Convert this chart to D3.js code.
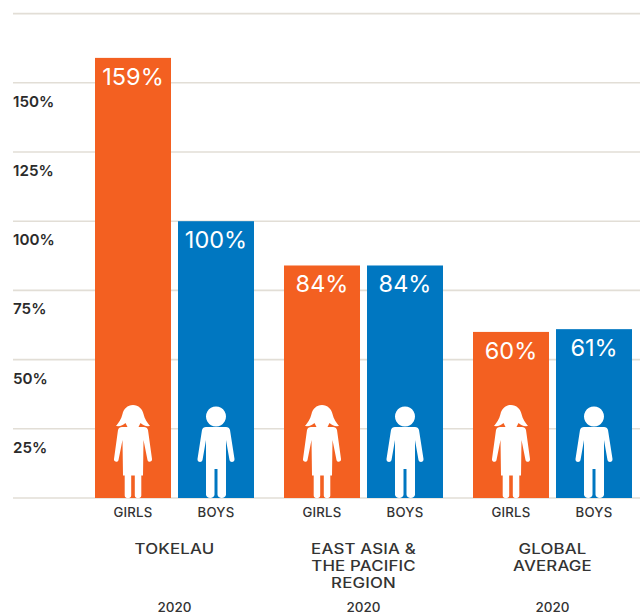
<!DOCTYPE html>
<html><head><meta charset="utf-8">
<script src="https://cdn.jsdelivr.net/npm/d3@7"></script>
<style>html,body{margin:0;padding:0;background:#fff}svg{display:block}text{font-family:Inter,"Open Sans",sans-serif}</style>
</head><body><div id="c"></div>
<script>
const regions = ["TOKELAU", "EAST ASIA &|THE PACIFIC|REGION", "GLOBAL|AVERAGE"];
const genders = ["GIRLS", "BOYS"];
const girls = [159, 84, 60];
const boys = [100, 84, 61];
const years = ["2020", "2020", "2020"];
const ticks = [25, 50, 75, 100, 125, 150];
const gridValues = [0, 25, 50, 75, 100, 125, 150, 175];
const colors = ["#f36021", "#0077c1"];

const W = 640, H = 614;
const svg = d3.select("#c").append("svg").attr("width", W).attr("height", H);
const y = d3.scaleLinear().domain([0, 175]).range([498, 13.6]);
const x0 = d3.scalePoint().domain(d3.range(regions.length)).range([95, 473]);
const x1 = d3.scaleBand().domain(genders).range([0, 159]).paddingInner(7 / 83).paddingOuter(0);

svg.append("g").selectAll("line").data(gridValues).join("line")
  .attr("x1", 13).attr("x2", W)
  .attr("y1", d => y(d)).attr("y2", d => y(d))
  .attr("stroke", "#e2ded6").attr("stroke-width", 1.6);

svg.append("g").selectAll("text").data(ticks).join("text")
  .attr("x", 13).attr("y", d => y(d) + 24)
  .attr("font-size", 15.2).attr("font-weight", 600).attr("fill", "#2b2b2b")
  .text(d => d + "%");

const girlPath = "M0,-93 C5.5,-93 9.5,-89 10.5,-84 C11.5,-79 14.5,-75 17,-72 C13,-71.5 10,-72.5 7.5,-75 L5.5,-71 L11,-71 C13,-71 14.5,-70 15,-68 L19,-39 C19.5,-36 15,-35 14.5,-38 L10.5,-58 L10,-22.5 L8.3,-22.5 L8.3,-2.5 C8.3,1 1.8,1 1.8,-2.5 L1.8,-22.5 L-1.8,-22.5 L-1.8,-2.5 C-1.8,1 -8.3,1 -8.3,-2.5 L-8.3,-22.5 L-10,-22.5 L-10.5,-58 L-14.5,-38 C-15,-35 -19.5,-36 -19,-39 L-15,-68 C-14.5,-70 -13,-71 -11,-71 L-5.5,-71 L-7.5,-75 C-10,-72.5 -13,-71.5 -17,-72 C-14.5,-75 -11.5,-79 -10.5,-84 C-9.5,-89 -5.5,-93 0,-93 Z";
const boyPath = "M0,-91.5 A10,10 0 1 1 -0.01,-91.5 Z M-10,-71 L10,-71 C12,-71 13.5,-70 14,-68 L18.5,-39 C19,-35.5 14,-35 13.5,-38 L10,-58 L10,-3.5 C10,1 1.5,1 1.5,-3.5 L1.5,-29 L-1.5,-29 L-1.5,-3.5 C-1.5,1 -10,1 -10,-3.5 L-10,-58 L-13.5,-38 C-14,-35 -19,-35.5 -18.5,-39 L-14,-68 C-13.5,-70 -12,-71 -10,-71 Z";

const rows = regions.flatMap((r, i) => [
  {i, g: "GIRLS", v: girls[i], c: colors[0], p: girlPath},
  {i, g: "BOYS", v: boys[i], c: colors[1], p: boyPath}
]);
const bw = x1.bandwidth();
const bars = svg.append("g").selectAll("g").data(rows).join("g")
  .attr("transform", d => `translate(${x0(d.i) + x1(d.g)},0)`);
bars.append("rect").attr("x", 0).attr("width", bw)
  .attr("y", d => y(d.v)).attr("height", d => y(0) - y(d.v)).attr("fill", d => d.c);
bars.append("text").attr("x", bw / 2).attr("y", d => y(d.v) + 27)
  .attr("text-anchor", "middle").attr("font-size", 23.5).attr("font-weight", 400).attr("fill", "#fff")
  .text(d => d.v + "%");
bars.append("path").attr("d", d => d.p).attr("fill", "#fff")
  .attr("transform", `translate(${bw / 2},${y(0)})`);
bars.append("text").attr("x", bw / 2).attr("y", 517)
  .attr("text-anchor", "middle").attr("font-size", 13.2).attr("letter-spacing", 0.25).attr("font-weight", 500).attr("fill", "#333")
  .text(d => d.g);

const groups = svg.append("g").selectAll("g").data(regions).join("g")
  .attr("transform", (d, i) => `translate(${x0(i) + 79.5},0)`);
groups.each(function (d) {
  d.split("|").forEach((ln, k) => {
    d3.select(this).append("text")
      .attr("transform", `translate(0,${554 + k * 17}) scale(1.2,1)`)
      .attr("text-anchor", "middle").attr("font-size", 14).attr("letter-spacing", 0.15).attr("font-weight", 500).attr("fill", "#333").text(ln);
  });
});
groups.append("text").data(years).attr("x", 0).attr("y", 612)
  .attr("text-anchor", "middle").attr("font-size", 13.5).attr("font-weight", 500).attr("fill", "#333")
  .text(d => d);
</script></body></html>
